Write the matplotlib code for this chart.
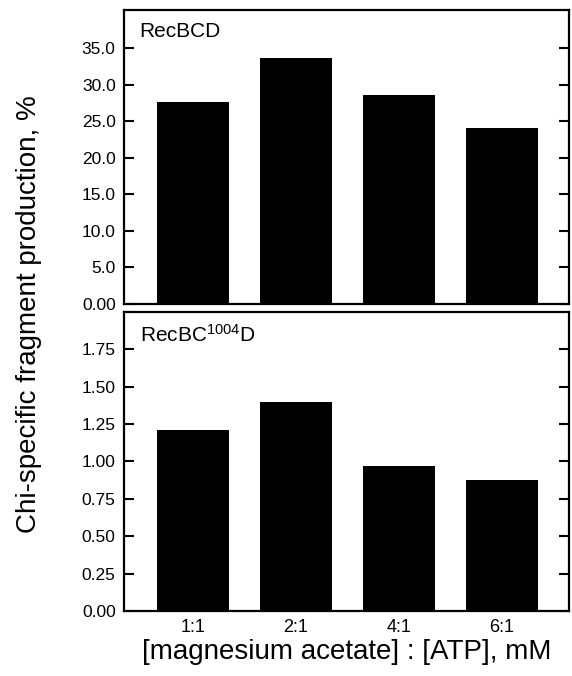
import matplotlib
matplotlib.use("Agg")
import matplotlib.pyplot as plt

plt.rcParams['font.family'] = ['Liberation Sans', 'DejaVu Sans']
plt.rcParams['mathtext.default'] = 'regular'

categories = ["1:1", "2:1", "4:1", "6:1"]
recbcd = [27.6, 33.6, 28.6, 24.1]
recbc1004d = [1.21, 1.40, 0.97, 0.875]
top_ticks = [0, 5, 10, 15, 20, 25, 30, 35]
top_ticklabels = ["0.00", "5.0", "10.0", "15.0", "20.0", "25.0", "30.0", "35.0"]
bot_ticks = [0, 0.25, 0.5, 0.75, 1.0, 1.25, 1.5, 1.75]
bot_ticklabels = ["0.00", "0.25", "0.50", "0.75", "1.00", "1.25", "1.50", "1.75"]

fig = plt.figure(figsize=(5.72, 6.76), dpi=100)
ax1 = fig.add_axes([0.2168, 0.5503, 0.778, 0.4349])
ax2 = fig.add_axes([0.2168, 0.0962, 0.778, 0.4423])

x = list(range(len(categories)))
for ax, vals, ticks, labels, ymax, title in [
    (ax1, recbcd, top_ticks, top_ticklabels, 40.2, "RecBCD"),
    (ax2, recbc1004d, bot_ticks, bot_ticklabels, 2.0, r"RecBC$^{1004}$D"),
]:
    ax.bar(x, vals, width=0.70, color='black')
    ax.set_xlim(-0.67, 3.65)
    ax.set_ylim(0, ymax)
    ax.set_yticks(ticks)
    ax.set_yticklabels(labels)
    ax.tick_params(axis='y', direction='in', length=7, width=1.5, right=True,
                   labelsize=12.5, pad=6)
    for s in ax.spines.values():
        s.set_linewidth(1.6)
    ax.text(0.035, 0.96, title, transform=ax.transAxes, fontsize=15,
            va='top', ha='left')

ax1.set_xticks([])
ax2.set_xticks(x)
ax2.set_xticklabels(categories)
ax2.tick_params(axis='x', length=0, labelsize=13, pad=6)
ax2.set_xlabel("[magnesium acetate] : [ATP], mM", fontsize=20, labelpad=2)
fig.text(0.05, 0.535, "Chi-specific fragment production, %", rotation=90,
         fontsize=20, ha='center', va='center')

fig.savefig("out.png", dpi=100)
